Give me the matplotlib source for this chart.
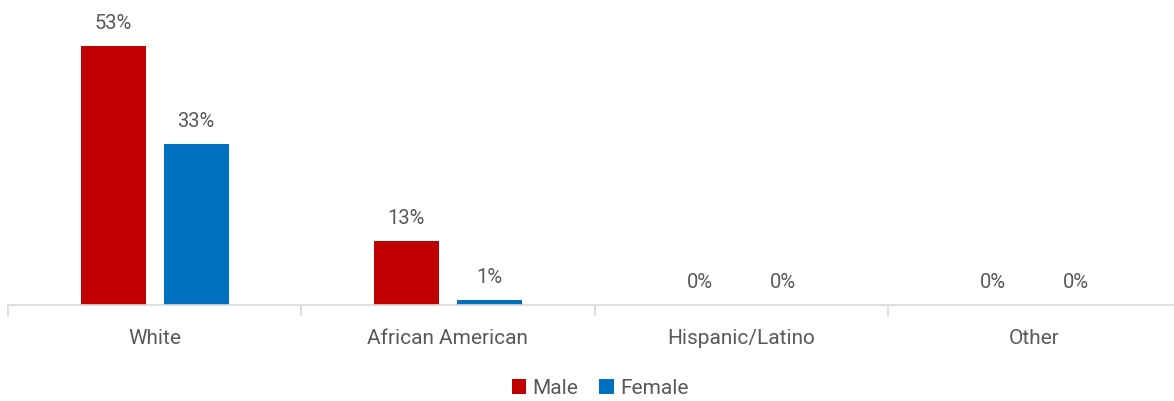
import numpy as np
import matplotlib.pyplot as plt

categories = ["White", "African American", "Hispanic/Latino", "Other"]
male = [53, 13, 0, 0]
female = [33, 1, 0, 0]

plt.rcParams['font.family'] = ['Roboto', 'DejaVu Sans']
gray = '#595959'

fig = plt.figure(figsize=(11.74, 4.01), dpi=100)
ax = fig.add_axes([8 / 1174, 1 - 305 / 401, 1173 / 1174, 305 / 401])

x = np.arange(len(categories))
w = 0.222
off = 0.1416
b1 = ax.bar(x - off, male, w, color='#C00000', label='Male')
b2 = ax.bar(x + off, female, w, color='#0070C0', label='Female')

for bars, vals in ((b1, male), (b2, female)):
    for r, v in zip(bars, vals):
        ax.text(r.get_x() + r.get_width() / 2, v + 2.7, f"{v}%", ha='center', va='bottom',
                fontsize=14.5, color=gray)

ax.set_xlim(-0.5, 3.5)
ax.set_ylim(0, 62.4)
ax.set_yticks([])
for s in ['top', 'right', 'left']:
    ax.spines[s].set_visible(False)
ax.spines['bottom'].set_color('#d9d9d9')
ax.spines['bottom'].set_linewidth(1.2)

ax.set_xticks(np.arange(-0.5, 4, 1))
ax.set_xticklabels([])
ax.tick_params(axis='x', length=8, color='#d9d9d9', width=1.2)
ax.set_xticks(x, minor=True)
ax.set_xticklabels(categories, minor=True, fontsize=15, color=gray)
ax.tick_params(axis='x', which='minor', length=0, pad=17)

fig.legend(handles=[b1, b2], loc='center', bbox_to_anchor=(600 / 1174, 1 - 388 / 401),
           ncol=2, frameon=False, fontsize=15, labelcolor=gray, handlelength=0.7,
           handleheight=0.7, handletextpad=0.3, columnspacing=1.0)

fig.savefig('out.png', dpi=100)
